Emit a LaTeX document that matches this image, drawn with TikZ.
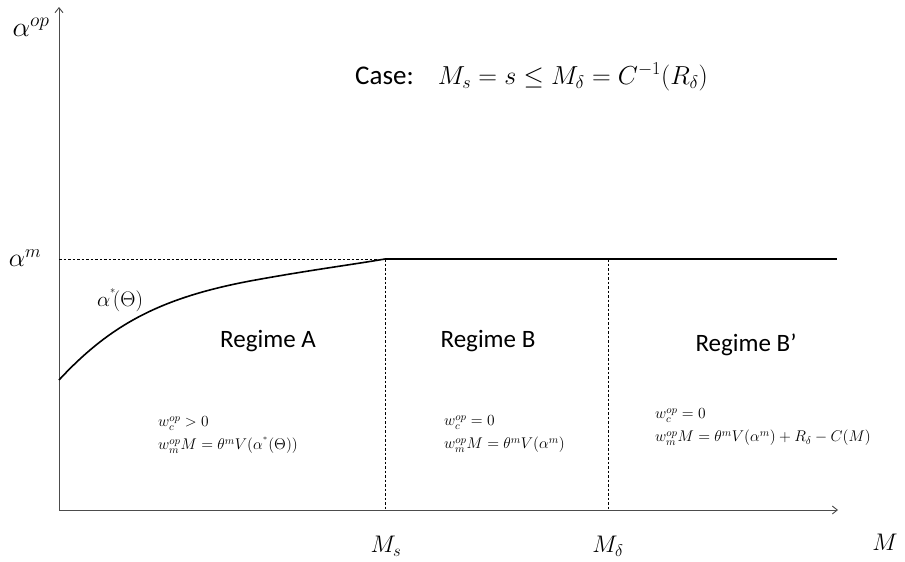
\documentclass[tikz,border=0pt]{standalone}
\usepackage{fix-cm}
\usepackage{fontspec}
\newfontfamily\calib{Carlito}
\usetikzlibrary{arrows.meta}
\tikzset{
  axis/.style={draw=black!70, line width=0.9pt, -{Straight Barb[length=5pt,width=8pt]}},
  guide/.style={draw=black, dash pattern=on 2.5pt off 2pt, line width=0.6pt},
  lvl/.style={draw=black, line width=1.6pt},
  regime/.style={font=\calib\fontsize{25}{30}\selectfont, inner sep=0pt},
  eqs/.style={font=\fontsize{15.5}{19}\selectfont, align=left, inner sep=0pt, anchor=west},
  lbl/.style={font=\fontsize{24}{28}\selectfont, inner sep=0pt}
}
\begin{document}
\begin{tikzpicture}[x=1pt,y=-1pt]
\useasboundingbox (0,0) rectangle (905,562);
\coordinate (O) at (59,510);
\coordinate (ytop) at (59,7);
\coordinate (xend) at (838,510);
\coordinate (am) at (59,259);
\coordinate (ks) at (385,259);
\coordinate (kd) at (608,259);
\coordinate (kend) at (837,259);
\coordinate (bs) at (385,510);
\coordinate (bd) at (608,510);
\coordinate (c0) at (59,380);
\draw[axis] (O) -- (ytop);
\draw[axis] (O) -- (xend);
\draw[guide] (am) -- (ks);
\draw[guide] (ks) -- (bs);
\draw[guide] (kd) -- (bd);
\draw[lvl] (ks) -- (kend);
\draw[lvl] (c0) .. controls (110,325) and (160,298) .. (250,281) .. controls (310,270) and (350,265) .. (ks);
\node[lbl, font=\fontsize{28}{32}\selectfont] (yl) at (31,27) {$\alpha^{op}$};
\node[lbl, font=\fontsize{26}{30}\selectfont] (aml) at (25,258) {$\alpha^{m}$};
\node[lbl, font=\fontsize{21}{25}\selectfont] (astar) at (120,300) {$\alpha^{^{*}}\!(\Theta)$};
\node[inner sep=0pt, anchor=west] (case) at (355,77) {{\calib\fontsize{27}{32}\selectfont Case:}\hspace{24pt}{\fontsize{26}{30}\selectfont$M_{s}=s\leq M_{\delta}=C^{-1}(R_{\delta})$}};
\node[regime] (ra) at (268,341) {Regime A};
\node[regime] (rb) at (488,341) {Regime B};
\node[regime] (rbp) at (746,345) {Regime B’};
\node[eqs] (ea) at (158,435) {$w_{c}^{op}>0$\\[4pt] $w_{m}^{op}M=\theta^{m}V\big(\alpha^{^{*}}(\Theta)\big)$};
\node[eqs] (eb) at (444,434) {$w_{c}^{op}=0$\\[4pt] $w_{m}^{op}M=\theta^{m}V\big(\alpha^{m}\big)$};
\node[eqs] (ebp) at (655,427) {$w_{c}^{op}=0$\\[4pt] $w_{m}^{op}M=\theta^{m}V\big(\alpha^{m}\big)+R_{\delta}-C\big(M\big)$};
\node[lbl] (ms) at (386,546) {$M_{s}$};
\node[lbl] (md) at (608,546) {$M_{\delta}$};
\node[lbl] (mx) at (885,542) {$M$};
\end{tikzpicture}
\end{document}
